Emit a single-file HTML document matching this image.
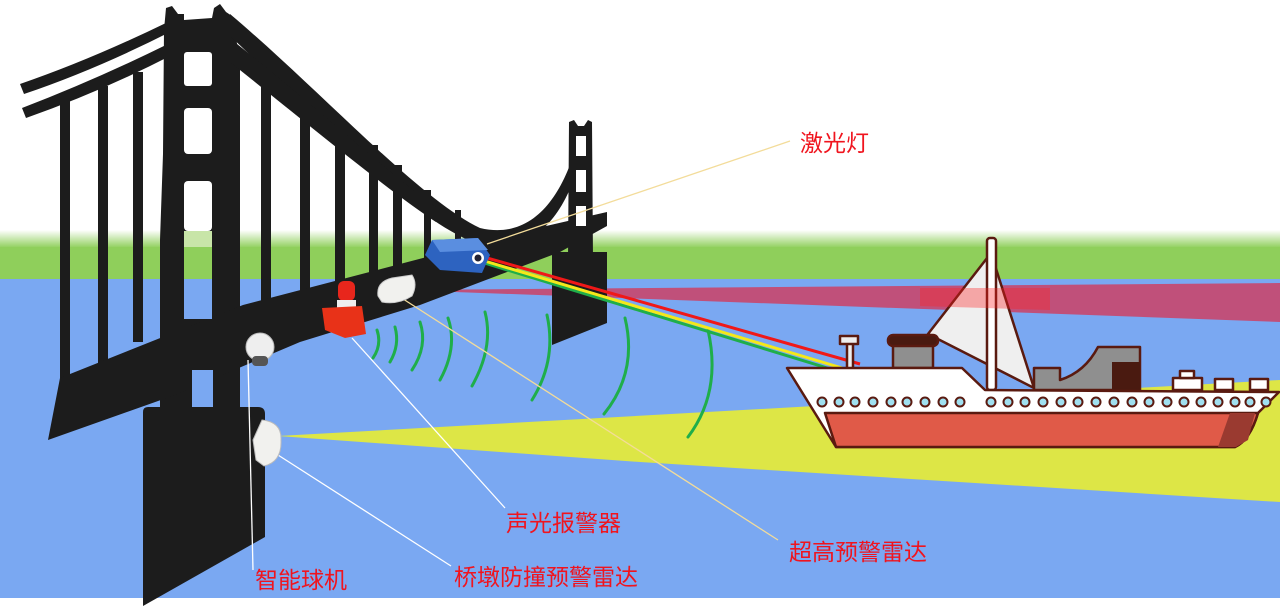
<!DOCTYPE html>
<html><head><meta charset="utf-8"><style>
html,body{margin:0;padding:0;background:#fff;}
svg{display:block}
text{font-family:"Liberation Sans","Noto Sans CJK SC",sans-serif;fill:#f0141e;font-size:23px}
</style></head><body>
<svg width="1280" height="609" viewBox="0 0 1280 609" xmlns="http://www.w3.org/2000/svg">
<defs>
<linearGradient id="g" x1="0" y1="0" x2="0" y2="1">
<stop offset="0" stop-color="#fff"/><stop offset="1" stop-color="#8fcf5b"/>
</linearGradient>
</defs>
<rect width="1280" height="609" fill="#fff"/>
<rect y="230" width="1280" height="18" fill="url(#g)"/>
<rect y="247" width="1280" height="33" fill="#8fcf5b"/>
<rect y="279" width="1280" height="319" fill="#7aa8f2"/>
<!-- yellow beam -->
<polygon points="278,436 1280,380 1280,502 640,462" fill="#dde646"/>
<!-- magenta -->
<polygon points="400,290 1280,283 1280,322" fill="#c0507a"/>

<!-- bridge -->
<g fill="#1c1c1c">
<!-- left cables -->
<path d="M20,84 Q90,60 168,22 L170,32 Q95,70 24,94 Z"/>
<path d="M22,108 Q95,80 168,44 L170,56 Q100,92 26,118 Z"/>
<!-- hangers left -->
<rect x="60" y="100" width="10" height="280"/>
<rect x="98" y="86" width="10" height="280"/>
<rect x="133" y="72" width="10" height="270"/>
<!-- main tower -->
<polygon points="166,8 172,6 178,14 184,14 184,20 212,18 214,8 220,4 226,12 232,16 240,60 240,440 160,440 160,240 163,154 164,30"/>
<!-- right cables -->
<path d="M230,14 C320,90 420,200 480,228 C530,240 560,200 575,150 L580,160 C565,215 535,255 480,245 C410,220 320,120 228,34 Z"/>
<path d="M232,40 C320,110 390,175 440,210 L436,222 C385,188 315,130 230,62 Z"/>
<!-- hangers right -->
<rect x="261" y="70" width="10" height="240"/>
<rect x="300" y="95" width="10" height="215"/>
<rect x="335" y="120" width="10" height="180"/>
<rect x="369" y="145" width="9" height="150"/>
<rect x="393" y="165" width="9" height="120"/>
<rect x="424" y="190" width="7" height="80"/>
<rect x="455" y="210" width="6" height="50"/>
<!-- deck -->
<polygon points="60,378 243,305 423,258 520,232 607,212 607,226 560,252 420,305 300,342 175,395 48,440"/>
<!-- main pier -->
<path d="M148,407 L258,407 Q265,407 265,414 L265,537 L143,606 L143,412 Q143,407 148,407 Z"/>
<!-- right tower -->
<polygon points="569,122 574,120 578,126 584,126 588,120 592,122 593,260 568,260"/>
<polygon points="552,252 607,252 607,323 552,345"/>
</g>
<!-- tower openings -->
<g fill="#fff">
<rect x="184" y="52" width="28" height="34" rx="3"/>
<rect x="184" y="108" width="28" height="46" rx="4"/>
<rect x="184" y="181" width="28" height="50" rx="4"/>
</g>
<rect x="184" y="231" width="28" height="16" fill="#c8e5a8"/>
<rect x="184" y="247" width="28" height="33" fill="#8fcf5b"/>
<rect x="184" y="279" width="28" height="40" fill="#7aa8f2"/>
<rect x="192" y="370" width="21" height="37" fill="#7aa8f2"/>
<g fill="#fff">
<rect x="576" y="136" width="10" height="20"/>
<rect x="576" y="170" width="10" height="22"/>
<rect x="576" y="206" width="10" height="20"/>
</g>

<!-- green arcs -->
<g fill="none" stroke="#1fae4a" stroke-width="3" stroke-linecap="round">
<path d="M377,330 Q382,345 373,358"/>
<path d="M395,327 Q400,345 390,362"/>
<path d="M420,322 Q428,346 412,370"/>
<path d="M448,318 Q458,347 440,380"/>
<path d="M485,312 Q494,347 472,386"/>
<path d="M547,315 Q557,360 532,400"/>
<path d="M625,318 Q638,372 604,414"/>
<path d="M708,330 Q722,392 688,437"/>
</g>

<!-- leader lines -->
<g fill="none" stroke-width="1.3">
<line x1="487" y1="244" x2="790" y2="141" stroke="#f3dc9a"/>
<line x1="400" y1="297" x2="778" y2="540" stroke="#f3dc9a"/>
<line x1="352" y1="338" x2="505" y2="508" stroke="#fff"/>
<line x1="278" y1="455" x2="451" y2="566" stroke="#fff"/>
<line x1="248" y1="360" x2="253" y2="570" stroke="#fff"/>
</g>

<!-- laser beams -->
<line x1="478" y1="261" x2="837" y2="371" stroke="#1fae4a" stroke-width="3"/>
<line x1="478" y1="259" x2="842" y2="368" stroke="#f4e81a" stroke-width="3"/>
<line x1="480" y1="256" x2="860" y2="364" stroke="#f01818" stroke-width="3"/>

<!-- devices -->
<g>
<polygon points="432,240 478,238 490,255 482,273 440,270 425,255" fill="#2d63c0"/>
<polygon points="432,240 478,238 488,250 440,252" fill="#5a8ee0"/>
<circle cx="478" cy="258" r="6" fill="#fff"/><circle cx="478" cy="258" r="3.5" fill="#223"/>
<rect x="338" y="281" width="17" height="20" rx="6" fill="#e8261c"/>
<rect x="337" y="300" width="19" height="10" fill="#eee"/>
<polygon points="322,308 362,306 366,334 345,338 325,330" fill="#e83218"/>
<path d="M378,296 Q376,282 392,278 L412,275 Q418,284 412,296 Q398,305 382,302 Z" fill="#f1f1ee" stroke="#ccc"/>
<circle cx="260" cy="347" r="14" fill="#eee" stroke="#bbb"/>
<rect x="252" y="356" width="16" height="10" rx="4" fill="#555"/>
<path d="M262,420 Q282,422 281,440 Q282,462 264,466 L256,460 L253,440 Z" fill="#f1f1ee" stroke="#bbb"/>
</g>

<!-- ship -->
<g stroke="#5a1a10" stroke-width="2.5" stroke-linejoin="round">
<polygon points="928,334 991,253 1034,388" fill="#efefef"/>
<rect x="987" y="238" width="9" height="152" rx="3" fill="#fff"/>
<rect x="893" y="343" width="40" height="25" fill="#8f8f8f"/>
<rect x="888" y="335" width="50" height="11" rx="5" fill="#4a1a10"/>
<rect x="847" y="341" width="6" height="28" fill="#eee"/>
<rect x="840" y="336" width="18" height="8" fill="#eee"/>
<path d="M1034,368 L1060,368 L1060,380 Q1085,372 1098,347 L1140,347 L1140,390 L1034,390 Z" fill="#8f8f8f"/>
<rect x="1112" y="362" width="28" height="28" fill="#4a1a10" stroke="none"/>
<rect x="1173" y="378" width="29" height="12" fill="#fff"/>
<rect x="1180" y="371" width="14" height="7" fill="#fff"/>
<rect x="1215" y="379" width="18" height="11" fill="#fff"/>
<rect x="1250" y="379" width="18" height="11" fill="#fff"/>
<path d="M836,447 L787,368 L962,368 L985,390 L1279,392 L1258,413 Q1250,440 1235,447 Z" fill="#fff"/>
<path d="M825,413 L1258,413 Q1250,440 1235,447 L836,447 Z" fill="#e05a48"/>
</g>
<polygon points="1230,413 1255,413 1248,440 1236,447 1218,447" fill="#9a3a30"/>
<g fill="#9fe0f0" stroke="#5a1a10" stroke-width="2">
<circle cx="822" cy="402" r="4.5"/><circle cx="839" cy="402" r="4.5"/><circle cx="855" cy="402" r="4.5"/><circle cx="873" cy="402" r="4.5"/><circle cx="891" cy="402" r="4.5"/><circle cx="907" cy="402" r="4.5"/><circle cx="925" cy="402" r="4.5"/><circle cx="943" cy="402" r="4.5"/><circle cx="960" cy="402" r="4.5"/>
<circle cx="991" cy="402" r="4.5"/><circle cx="1008" cy="402" r="4.5"/><circle cx="1025" cy="402" r="4.5"/><circle cx="1043" cy="402" r="4.5"/><circle cx="1061" cy="402" r="4.5"/><circle cx="1078" cy="402" r="4.5"/><circle cx="1096" cy="402" r="4.5"/><circle cx="1114" cy="402" r="4.5"/><circle cx="1132" cy="402" r="4.5"/><circle cx="1149" cy="402" r="4.5"/><circle cx="1167" cy="402" r="4.5"/><circle cx="1184" cy="402" r="4.5"/><circle cx="1201" cy="402" r="4.5"/><circle cx="1218" cy="402" r="4.5"/><circle cx="1235" cy="402" r="4.5"/><circle cx="1250" cy="402" r="4.5"/><circle cx="1266" cy="402" r="4.5"/>
</g>
<!-- magenta over sail -->
<polygon points="920,288 1050,288 1050,310 920,306" fill="#ff2020" opacity="0.35"/>

<!-- labels -->
<text x="800" y="151">激光灯</text>
<text x="506" y="531">声光报警器</text>
<text x="789" y="560">超高预警雷达</text>
<text x="454" y="585">桥墩防撞预警雷达</text>
<text x="255" y="588">智能球机</text>
</svg>
</body></html>
